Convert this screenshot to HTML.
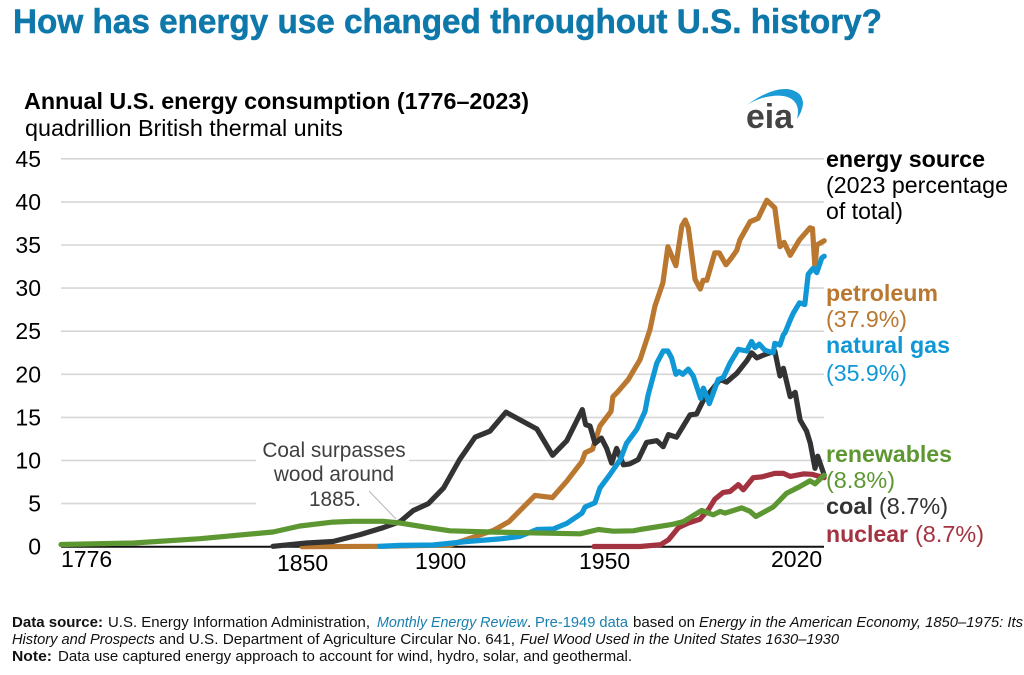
<!DOCTYPE html>
<html lang="en">
<head>
<meta charset="utf-8">
<title>How has energy use changed throughout U.S. history?</title>
<style>
html,body{margin:0;padding:0;background:#fff;width:1024px;height:675px;overflow:hidden}
svg{display:block;font-family:"Liberation Sans",Arial,sans-serif}
</style>
</head>
<body>
<svg id="chart" width="1024" height="675" viewBox="0 0 1024 675" xmlns="http://www.w3.org/2000/svg">
  <rect x="0" y="0" width="1024" height="675" fill="#fff"/>
  <text x="13" y="33" font-size="34" font-weight="700" fill="#0f78ab" stroke="#0f78ab" stroke-width="0.5" textLength="869" lengthAdjust="spacingAndGlyphs">How has energy use changed throughout U.S. history?</text>
  <text x="24" y="109" font-size="23" font-weight="700" fill="#000" textLength="505" lengthAdjust="spacingAndGlyphs">Annual U.S. energy consumption (1776–2023)</text>
  <text x="25" y="136" font-size="23.5" fill="#000" textLength="318" lengthAdjust="spacingAndGlyphs">quadrillion British thermal units</text>

  <g>
    <path fill="#1a9ad6" d="M747 105 Q770 88 787 89 Q803 91 803 104 Q802 112 797 119 Q800 107 794 101 Q785 92 762 98 Q753 101 747 105 Z"/>
    <text x="746" y="128" font-size="34" font-weight="700" fill="#444" textLength="47" lengthAdjust="spacingAndGlyphs">eia</text>
  </g>

  <g id="grid"></g>
  <rect x="256" y="440" width="153" height="72" fill="#fff"/>
  <g id="yticks"></g>
  <line x1="369" y1="491" x2="396" y2="519" stroke="#b5b5b5" stroke-width="1"/>
  <g id="series"></g>

  <g font-size="23" fill="#000">
    <text x="61" y="567">1776</text>
    <text x="277" y="571">1850</text>
    <text x="415" y="569">1900</text>
    <text x="579" y="569">1950</text>
    <text x="771" y="567">2020</text>
  </g>

  <g font-size="20.8" fill="#404040" text-anchor="middle">
    <text x="334" y="457">Coal surpasses</text>
    <text x="334" y="481">wood around</text>
    <text x="335" y="506">1885.</text>
  </g>

  <g font-size="23.5">
    <text x="826" y="167" font-weight="700" fill="#000" textLength="159" lengthAdjust="spacingAndGlyphs">energy source</text>
    <text x="826" y="193" fill="#000" textLength="182" lengthAdjust="spacingAndGlyphs">(2023 percentage</text>
    <text x="826" y="219" fill="#000" textLength="77" lengthAdjust="spacingAndGlyphs">of total)</text>
    <text x="826" y="301" font-weight="700" fill="#b9772f" textLength="112" lengthAdjust="spacingAndGlyphs">petroleum</text>
    <text x="826" y="327" fill="#b9772f" textLength="81" lengthAdjust="spacingAndGlyphs">(37.9%)</text>
    <text x="826" y="353" font-weight="700" fill="#1098d6" textLength="124" lengthAdjust="spacingAndGlyphs">natural gas</text>
    <text x="826" y="381" fill="#1098d6" textLength="81" lengthAdjust="spacingAndGlyphs">(35.9%)</text>
    <text x="826" y="462" font-weight="700" fill="#5d9732" textLength="126" lengthAdjust="spacingAndGlyphs">renewables</text>
    <text x="826" y="488" fill="#5d9732" textLength="69" lengthAdjust="spacingAndGlyphs">(8.8%)</text>
    <text x="826" y="514" font-weight="700" fill="#333" textLength="47" lengthAdjust="spacingAndGlyphs">coal</text>
    <text x="879" y="514" fill="#333" textLength="69" lengthAdjust="spacingAndGlyphs">(8.7%)</text>
    <text x="826" y="542" font-weight="700" fill="#a33340" textLength="82" lengthAdjust="spacingAndGlyphs">nuclear</text>
    <text x="915" y="542" fill="#a33340" textLength="69" lengthAdjust="spacingAndGlyphs">(8.7%)</text>
  </g>

  <g font-size="15" fill="#111">
    <text x="12" y="627" font-weight="700" textLength="91" lengthAdjust="spacingAndGlyphs">Data source:</text>
    <text x="108" y="627" textLength="262" lengthAdjust="spacingAndGlyphs">U.S. Energy Information Administration,</text>
    <text x="377" y="627" font-style="italic" fill="#1a7fae" textLength="150" lengthAdjust="spacingAndGlyphs">Monthly Energy Review</text>
    <text x="527" y="627">.</text>
    <text x="535" y="627" fill="#1a7fae" textLength="93" lengthAdjust="spacingAndGlyphs">Pre-1949 data</text>
    <text x="633" y="627" textLength="62" lengthAdjust="spacingAndGlyphs">based on</text>
    <text x="699" y="627" font-style="italic" textLength="324" lengthAdjust="spacingAndGlyphs">Energy in the American Economy, 1850–1975: Its</text>
    <text x="12" y="644" font-style="italic" textLength="143" lengthAdjust="spacingAndGlyphs">History and Prospects</text>
    <text x="159" y="644" textLength="356" lengthAdjust="spacingAndGlyphs">and U.S. Department of Agriculture Circular No. 641,</text>
    <text x="520" y="644" font-style="italic" textLength="319" lengthAdjust="spacingAndGlyphs">Fuel Wood Used in the United States 1630–1930</text>
    <text x="12" y="661" font-weight="700" textLength="40" lengthAdjust="spacingAndGlyphs">Note:</text>
    <text x="58" y="661" textLength="574" lengthAdjust="spacingAndGlyphs">Data use captured energy approach to account for wind, hydro, solar, and geothermal.</text>
  </g>
</svg>
<script>
const yTicks = [0, 5, 10, 15, 20, 25, 30, 35, 40, 45];

const petroleumYears = [1854,1880,1902,1916,1921,1929.4,1935,1939.7,1944.6,1945.6,1948,1950.4,1954,1954.6,1956,1959.6,1963.4,1966.6,1968.2,1970.8,1972.4,1975,1976.9,1978,1979,1981.2,1982.9,1983.8,1985,1987.6,1989,1991.2,1993,1994.7,1995.7,1999,2001.6,2004.4,2007,2008.7,2010,2012,2015,2018.4,2019.2,2020,2020.6,2023];
const petroleumValues = [0,0.05,0.2,1.9,2.9,5.95,5.7,7.6,9.9,10.9,11.3,14,15.7,17.4,17.9,19.4,21.7,25.2,27.9,30.6,34.8,32.6,37.2,37.9,37,31,29.9,30.9,30.9,34.1,34.1,32.7,33.5,34.4,35.6,37.7,38.1,40.2,39.3,34.8,35.3,33.8,35.6,37,36.9,32.3,35,35.5];

const gasYears = [1879,1885.7,1896.4,1907.4,1918,1924.5,1930,1935.3,1939.7,1944.6,1945.6,1948.8,1950.4,1953.6,1957,1959,1962.3,1965,1966,1968.8,1970.9,1972.4,1973.6,1975,1976,1977.2,1979,1980.6,1983,1983.9,1985.8,1988.7,1990.3,1992.5,1995.2,1997.9,1999.5,2000.6,2002,2003.8,2006.5,2007,2008.7,2009.8,2010.3,2012,2013,2015,2016.7,2017.8,2019.4,2020.6,2022.2,2023];
const gasValues = [0.05,0.15,0.2,0.6,0.9,1.2,2,2.05,2.7,3.9,4.6,5.1,6.8,8.35,10.1,12,13.6,15.7,17.6,21.3,22.7,22.7,21.9,20,20.3,20,20.6,19.8,17.2,18.4,16.6,19.4,19.6,21.3,22.9,22.7,23.8,23.1,23.5,22.8,22.5,23.6,23.4,24.6,24.8,26.3,27.1,28.3,28.1,31.6,32.3,31.8,33.5,33.7];

const coalYears = [1844.6,1855.5,1864,1872.8,1880.2,1885.7,1890,1894.9,1899.8,1905,1910,1914.8,1920,1930,1935.1,1939.7,1944.7,1945.8,1947.2,1948.8,1950.9,1952.6,1954.2,1955.8,1958,1960,1962.8,1965.5,1968.8,1970.9,1972.6,1975.2,1977.4,1979.6,1981.7,1983.9,1989.3,1991.4,1994.7,1998,1999.5,2001.2,2003.8,2007,2008.7,2009.8,2012,2013.6,2015.2,2017.3,2018.5,2020,2020.9,2023];
const coalValues = [0.05,0.43,0.6,1.4,2.2,2.9,4.2,5,6.8,10.1,12.7,13.4,15.6,13.65,10.6,12.3,15.9,14.15,14,12,12.6,11.4,9.7,11.4,9.5,9.6,10.1,12.1,12.3,11.6,13,12.7,14,15.3,15.4,17,19.4,19.1,20.1,21.6,22.5,21.9,22.3,22.7,19.8,20.7,17.4,17.9,14.7,13.4,12,9.1,10.5,8.3];

const nuclearYears = [1948.5,1963.4,1970,1972.6,1975.8,1979,1982.8,1985.5,1987.6,1990.3,1992.5,1995.2,1996.8,2000,2002.8,2007,2009.8,2012,2016.3,2019,2023];
const nuclearValues = [0.02,0.02,0.23,0.8,2.2,2.75,3.2,4.3,5.5,6.3,6.4,7.2,6.6,8,8.1,8.5,8.5,8.15,8.45,8.4,8];

const renewableYears = [1776,1799.5,1821,1844.6,1853.3,1864,1870.5,1880.2,1885.7,1894.3,1901.9,1914.8,1928.8,1944,1949.9,1954.7,1961.2,1963.4,1974,1977.4,1983.3,1987.1,1989.3,1990.9,1996.3,1999,2000.9,2006.5,2010.8,2015.2,2018.4,2020,2023];
const renewableValues = [0.25,0.43,0.93,1.7,2.4,2.85,2.95,2.95,2.75,2.25,1.85,1.7,1.6,1.5,2,1.8,1.85,2,2.6,2.9,4.2,3.7,4.1,3.9,4.5,4.1,3.5,4.6,6.2,7,7.65,7.3,8.3];

const NS = 'http://www.w3.org/2000/svg';
function xScale(year) { return 61 + (year - 1776) * 3.09; }
function yScale(value) { return 546.7 - value * 8.62; }

const grid = document.getElementById('grid');
const yLabels = document.getElementById('yticks');
yTicks.forEach(function (tick) {
  const line = document.createElementNS(NS, 'line');
  
  
  line.setAttribute('x1', 61);
  line.setAttribute('x2', 824);
  line.setAttribute('y1', yScale(tick));
  line.setAttribute('y2', yScale(tick));
  line.setAttribute('stroke', tick === 0 ? '#111' : '#d6d6d6');
  line.setAttribute('stroke-width', tick === 0 ? 2 : 1.6);
  grid.appendChild(line);

  const label = document.createElementNS(NS, 'text');
  
  
  label.setAttribute('x', 41);
  label.setAttribute('y', yScale(tick) + 8);
  label.setAttribute('text-anchor', 'end');
  label.setAttribute('font-size', 23);
  label.setAttribute('fill', '#000');
  label.textContent = tick;
  yLabels.appendChild(label);
});

function drawSeries(name, years, values, color) {
  const path = document.createElementNS(NS, 'path');
  const d = years.map(function (year, i) {
    return (i ? 'L' : 'M') + xScale(year).toFixed(1) + ' ' + yScale(values[i]).toFixed(1);
  }).join(' ');
  
  
  path.setAttribute('d', d);
  path.setAttribute('fill', 'none');
  path.setAttribute('stroke', color);
  path.setAttribute('stroke-width', 5.2);
  path.setAttribute('stroke-linejoin', 'round');
  path.setAttribute('stroke-linecap', 'round');
  document.getElementById('series').appendChild(path);
}

drawSeries('nuclear', nuclearYears, nuclearValues, '#a33340');
drawSeries('petroleum', petroleumYears, petroleumValues, '#b9772f');
drawSeries('coal', coalYears, coalValues, '#333333');
drawSeries('natural-gas', gasYears, gasValues, '#1098d6');
drawSeries('renewables', renewableYears, renewableValues, '#5d9732');
</script>
</body>
</html>
